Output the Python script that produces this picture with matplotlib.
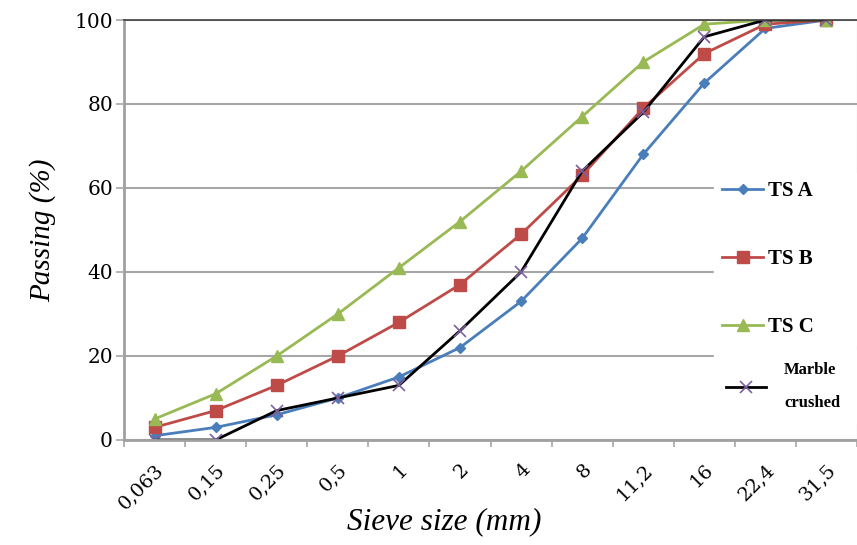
import matplotlib.pyplot as plt
from matplotlib.ticker import FixedLocator

# Данные гранулометрии
sieves = ["0,063", "0,15", "0,25", "0,5", "1", "2", "4", "8", "11,2", "16", "22,4", "31,5"]
ts_a = [1, 3, 6, 10, 15, 22, 33, 48, 68, 85, 98, 100]
ts_b = [3, 7, 13, 20, 28, 37, 49, 63, 79, 92, 99, 100]
ts_c = [5, 11, 20, 30, 41, 52, 64, 77, 90, 99, 100, 100]
marble = [0, 0, 7, 10, 13, 26, 40, 64, 78, 96, 100, 100]

plt.rcParams["font.family"] = ["Liberation Serif", "DejaVu Serif"]

fig = plt.figure(figsize=(8.57, 5.45), dpi=100)
ax = fig.add_axes([0.1447, 0.1927, 0.8553, 0.7706])

x = list(range(len(sieves)))
la, = ax.plot(x, ts_a, color="#4a7ebb", marker="D", markersize=5, linewidth=2, label="TS A")
lb, = ax.plot(x, ts_b, color="#be4b48", marker="s", markersize=8, linewidth=2, label="TS B")
lc, = ax.plot(x, ts_c, color="#98b954", marker="^", markersize=8, linewidth=2, label="TS C")
lm, = ax.plot(x, marble, color="black", marker="x", markersize=8, markeredgecolor="#7d60a0",
              markeredgewidth=1.2, linewidth=2, label="Marble\ncrushed")

ax.set_xlim(-0.5, len(sieves) - 0.5)
ax.set_ylim(0, 100)
ax.set_yticks([0, 20, 40, 60, 80, 100])
ax.grid(axis="y", color="#a6a6a6", linewidth=1.5)
ax.set_axisbelow(True)

ax.set_xticks(x)
ax.set_xticklabels(sieves, rotation=45, ha="right", rotation_mode="anchor",
                   fontsize=14, family="DejaVu Serif")
ax.tick_params(axis="x", length=0, pad=15)
ax.xaxis.set_minor_locator(FixedLocator([i - 0.5 for i in range(len(sieves) + 1)]))
ax.tick_params(axis="x", which="minor", length=5, color="#a6a6a6", width=1.2)
ax.tick_params(axis="y", labelsize=14.5, length=6, color="#a6a6a6", width=1.2, pad=2)
for t in ax.get_yticklabels():
    t.set_family("DejaVu Serif")

for s in ["left", "bottom"]:
    ax.spines[s].set_color("#a0a0a0")
    ax.spines[s].set_linewidth(2)
ax.spines["top"].set_color("#404040")
ax.spines["top"].set_linewidth(1.2)
ax.spines["right"].set_color("#c0c0c0")

ax.set_xlabel("Sieve size (mm)", fontsize=22.5, style="italic")
ax.xaxis.set_label_coords(0.437, -0.16)
ax.set_ylabel("Passing (%)", fontsize=21, style="italic")
ax.yaxis.set_label_coords(-0.092, 0.5)

# Легенда: два блока с белым фоном, закрывающим сетку справа
leg1 = fig.legend(handles=[la, lb, lc], loc="upper left",
                  bbox_to_anchor=(0.833, 0.683, 0.167, 0), mode="expand",
                  borderaxespad=0, frameon=True, fancybox=False, edgecolor="white",
                  facecolor="white", framealpha=1, handlelength=1.95,
                  handletextpad=0.25, labelspacing=2.3, borderpad=0.4,
                  prop={"weight": "bold", "size": 15})
leg2 = fig.legend(handles=[lm], loc="upper left",
                  bbox_to_anchor=(0.833, 0.357, 0.167, 0), mode="expand",
                  borderaxespad=0, frameon=True, fancybox=False, edgecolor="white",
                  facecolor="white", framealpha=1, handlelength=2.4,
                  handletextpad=1.1, borderpad=0.7,
                  prop={"weight": "bold", "size": 12})
for t in leg2.get_texts():
    t.set_linespacing(2.4)

fig.savefig("out.png", dpi=100)
